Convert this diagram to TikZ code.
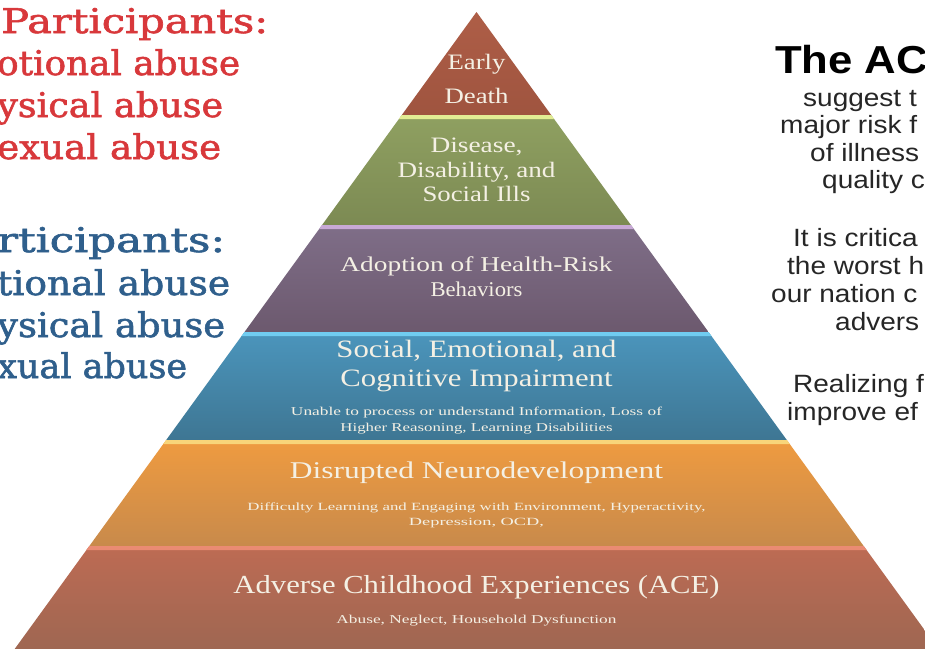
\documentclass[tikz,border=0pt]{standalone}
\usepackage{fontspec}
\usepackage{graphicx}
\setmainfont{Liberation Serif}
\newfontfamily\slabfont[FakeBold=1.6]{DejaVu Serif}
\newfontfamily\arialfont{Liberation Sans}

% band colours (top / bottom of each gradient) and the light rim on each band
\definecolor{edTop}{HTML}{AE5E47}
\definecolor{edBot}{HTML}{9F543F}
\definecolor{grTop}{HTML}{8FA061}
\definecolor{grBot}{HTML}{7C8A53}
\definecolor{grRim}{HTML}{E2EC93}
\definecolor{puTop}{HTML}{7F6E88}
\definecolor{puBot}{HTML}{6C596E}
\definecolor{puRim}{HTML}{C8A9D6}
\definecolor{blTop}{HTML}{4B95BC}
\definecolor{blBot}{HTML}{3E7693}
\definecolor{blRim}{HTML}{70CCF0}
\definecolor{orTop}{HTML}{EF9B40}
\definecolor{orBot}{HTML}{C88A4B}
\definecolor{orRim}{HTML}{F8D57A}
\definecolor{rdTop}{HTML}{BD6B53}
\definecolor{rdBot}{HTML}{9B6652}
\definecolor{rdRim}{HTML}{EA8B73}
\definecolor{cream}{HTML}{F4F0E4}
\definecolor{slabRed}{HTML}{D8383B}
\definecolor{slabBlue}{HTML}{2F5F8C}
\definecolor{inkGray}{HTML}{262626}

% one line of text at a given size, stretched to a given width
\newcommand\wtxt[3]{{\fontsize{#1}{#1}\selectfont\resizebox{#2pt}{\height}{#3}}}

% trapezoid band of the pyramid: top y, bottom y, top colour, bottom colour, rim colour
\newcommand\pyrband[5]{%
  \pgfmathsetmacro\pbLt{476.5-0.725*(#1-12)}%
  \pgfmathsetmacro\pbRt{476.5+0.725*(#1-12)}%
  \pgfmathsetmacro\pbLh{476.5-0.725*(#1-8)}%
  \pgfmathsetmacro\pbRh{476.5+0.725*(#1-8)}%
  \pgfmathsetmacro\pbLb{476.5-0.725*(#2-12)}%
  \pgfmathsetmacro\pbRb{476.5+0.725*(#2-12)}%
  \shade[top color=#3,bottom color=#4]
    (\pbLt,#1) -- (\pbRt,#1) -- (\pbRb,#2) -- (\pbLb,#2) -- cycle;
  \fill[#5] (\pbLt,#1) -- (\pbRt,#1) -- (\pbRh,#1+4) -- (\pbLh,#1+4) -- cycle;
}

\begin{document}
\begin{tikzpicture}[x=1pt,y=-1pt,
  ptext/.style={text=cream,inner sep=0pt,anchor=base},
  redtxt/.style={text=slabRed,inner sep=0pt,anchor=base west,font=\slabfont},
  bluetxt/.style={text=slabBlue,inner sep=0pt,anchor=base west,font=\slabfont},
  graytxt/.style={text=inkGray,inner sep=0pt,anchor=base west,font=\arialfont}]
\useasboundingbox (0,0) rectangle (925,648);
\fill[white] (0,0) rectangle (925,648);

% pyramid
\pgfmathsetmacro\apL{476.5-0.725*(115-12)}
\pgfmathsetmacro\apR{476.5+0.725*(115-12)}
\shade[top color=edTop,bottom color=edBot] (476.5,12) -- (\apR,115) -- (\apL,115) -- cycle;
\pyrband{115}{225}{grTop}{grBot}{grRim}
\pyrband{225}{332}{puTop}{puBot}{puRim}
\pyrband{332}{440}{blTop}{blBot}{blRim}
\pyrband{440}{546}{orTop}{orBot}{orRim}
\pyrband{546}{662}{rdTop}{rdBot}{rdRim}

% pyramid labels
\node[ptext] (early) at (476.5,69) {\wtxt{22}{58}{Early}};
\node[ptext] (death) at (476.5,103) {\wtxt{22}{64}{Death}};
\node[ptext] (dis1) at (476.5,152) {\wtxt{22}{92}{Disease,}};
\node[ptext] (dis2) at (476.5,177) {\wtxt{22}{158}{Disability, and}};
\node[ptext] (dis3) at (476.5,201) {\wtxt{22}{108}{Social Ills}};
\node[ptext] (adop1) at (476.5,271) {\wtxt{21}{272}{Adoption of Health-Risk}};
\node[ptext] (adop2) at (476.5,296) {\wtxt{21}{92}{Behaviors}};
\node[ptext] (soc1) at (476.5,357) {\wtxt{25}{280}{Social, Emotional, and}};
\node[ptext] (soc2) at (476.5,386) {\wtxt{25}{272}{Cognitive Impairment}};
\node[ptext] (soc3) at (476.5,415) {\wtxt{12}{371}{Unable to process or understand Information, Loss of}};
\node[ptext] (soc4) at (476.5,431) {\wtxt{12}{272}{Higher Reasoning, Learning Disabilities}};
\node[ptext] (neu1) at (476.5,478) {\wtxt{24}{373}{Disrupted Neurodevelopment}};
\node[ptext] (neu2) at (476.5,510) {\wtxt{11}{458}{Difficulty Learning and Engaging with Environment, Hyperactivity,}};
\node[ptext] (neu3) at (476.5,525) {\wtxt{11}{135}{Depression, OCD,}};
\node[ptext] (ace1) at (476.5,593) {\wtxt{26}{486}{Adverse Childhood Experiences (ACE)}};
\node[ptext] (ace2) at (476.5,623) {\wtxt{12}{280}{Abuse, Neglect, Household Dysfunction}};

% left column, red group
\node[redtxt] (r1) at (1,33) {\wtxt{34}{267}{Participants:}};
\node[redtxt] (r2) at (-3,75) {\wtxt{34}{243}{otional abuse}};
\node[redtxt] (r3) at (-3,117) {\wtxt{34}{226}{ysical abuse}};
\node[redtxt] (r4) at (-3,159) {\wtxt{34}{224}{exual abuse}};

% left column, blue group
\node[bluetxt] (b1) at (-3,252) {\wtxt{34}{228}{rticipants:}};
\node[bluetxt] (b2) at (-3,295) {\wtxt{34}{233}{tional abuse}};
\node[bluetxt] (b3) at (-3,337) {\wtxt{34}{228}{ysical abuse}};
\node[bluetxt] (b4) at (-3,378) {\wtxt{34}{190}{xual abuse}};

% right column
\node[graytxt,text=black] (t0) at (775,73) {\scalebox{1.12}[1]{\fontsize{39}{39}\selectfont\bfseries The AC}};
\node[graytxt] (t1) at (803,106) {\scalebox{1.12}[1]{\fontsize{25}{25}\selectfont suggest t}};
\node[graytxt] (t2) at (780,133) {\scalebox{1.12}[1]{\fontsize{25}{25}\selectfont major risk f}};
\node[graytxt] (t3) at (810,161) {\scalebox{1.12}[1]{\fontsize{25}{25}\selectfont of illness}};
\node[graytxt] (t4) at (822,188) {\scalebox{1.12}[1]{\fontsize{25}{25}\selectfont quality c}};
\node[graytxt] (t5) at (793,246) {\scalebox{1.12}[1]{\fontsize{25}{25}\selectfont It is critica}};
\node[graytxt] (t6) at (787,274) {\scalebox{1.12}[1]{\fontsize{25}{25}\selectfont the worst h}};
\node[graytxt] (t7) at (771,302) {\scalebox{1.12}[1]{\fontsize{25}{25}\selectfont our nation c}};
\node[graytxt] (t8) at (835,330) {\scalebox{1.12}[1]{\fontsize{25}{25}\selectfont advers}};
\node[graytxt] (t9) at (793,392) {\scalebox{1.12}[1]{\fontsize{25}{25}\selectfont Realizing f}};
\node[graytxt] (t10) at (787,420) {\scalebox{1.12}[1]{\fontsize{25}{25}\selectfont improve ef}};
\end{tikzpicture}
\end{document}
